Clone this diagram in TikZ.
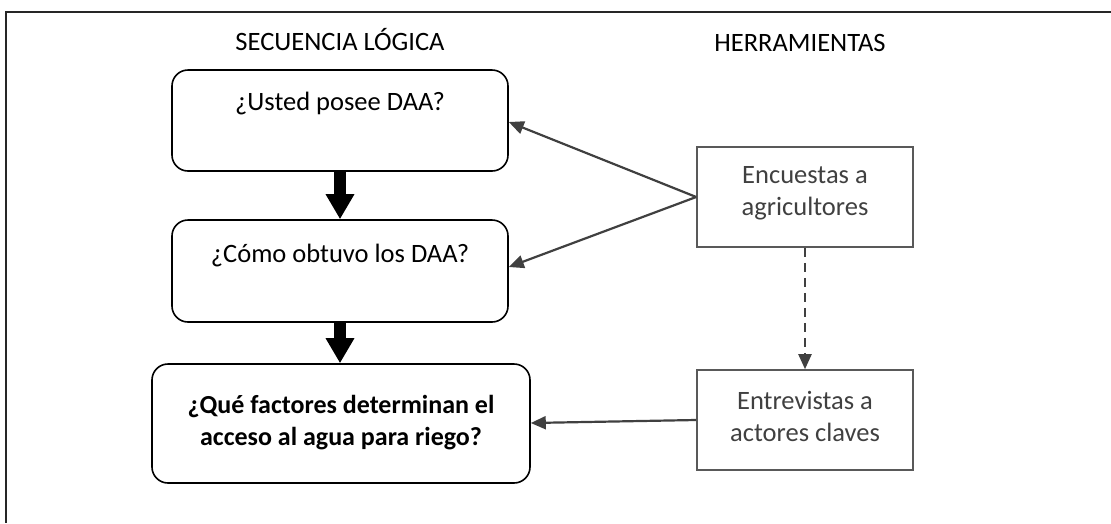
\documentclass[tikz,border=0pt]{standalone}
\usepackage{fontspec}
\setmainfont{Carlito}
\usetikzlibrary{arrows.meta}
\definecolor{toolgray}{HTML}{595959}
\definecolor{arrgray}{HTML}{404040}
\definecolor{txtgray}{HTML}{404040}
\tikzset{
  qbox/.style={draw=black, line width=1.6pt, rounded corners=16pt, inner sep=0pt},
  tbox/.style={draw=toolgray, line width=1.6pt, inner sep=0pt, minimum width=216pt, minimum height=100pt},
  qtext/.style={font=\fontsize{26.5}{32}\selectfont, text=black, inner sep=0pt, anchor=base},
  btext/.style={font=\fontsize{26}{32}\selectfont\bfseries, text=black, inner sep=0pt, align=center},
  ttext/.style={font=\fontsize{26.5}{32}\selectfont, text=txtgray, inner sep=0pt, align=center},
  head/.style={font=\fontsize{26.5}{30}\selectfont, text=black, inner sep=0pt, anchor=base},
  thick arrow/.style={line width=12pt, -{Triangle[length=25pt,width=27pt]}},
  tool arrow/.style={draw=arrgray, line width=2.2pt, -{Triangle[length=15pt,width=13pt]}, color=arrgray},
}
\begin{document}
\begin{tikzpicture}[x=1pt,y=-1pt]
\useasboundingbox (0,0) rectangle (1111,523);
% frame
\coordinate (fTL) at (6,12);
\coordinate (fTR) at (1111,12);
\coordinate (fBL) at (6,523);
\draw[line width=1.8pt, color=black!85] (fTR) -- (fTL) -- (fBL);
% headers
\node[head] (h1) at (340,50) {SECUENCIA LÓGICA};
\node[head] (h2) at (800,51) {HERRAMIENTAS};
% question boxes
\node[qbox, minimum width=336pt, minimum height=101pt] (b1) at (340,120.5) {};
\node[qtext] (t1) at (340,110) {¿Usted posee DAA?};
\node[qbox, minimum width=336pt, minimum height=102pt] (b2) at (340,271) {};
\node[qtext] (t2) at (340,262) {¿Cómo obtuvo los DAA?};
\node[qbox, minimum width=378pt, minimum height=119pt] (b3) at (341,423.5) {};
\node[btext] (t3) at (341,423) {¿Qué factores determinan el\\acceso al agua para riego?};
% tool boxes
\node[tbox] (e1) at (805,197) {};
\node[ttext] (te1) at (805,193) {Encuestas a\\agricultores};
\node[tbox] (e2) at (805,420) {};
\node[ttext] (te2) at (805,416) {Entrevistas a\\actores claves};
% thick arrows
\draw[thick arrow] (b1.south) -- (b2.north);
\draw[thick arrow] (b2.south) -- (b2.south |- b3.north);
% tool arrows
\draw[tool arrow] (e1.west) -- (b1.east |- 0,122);
\draw[tool arrow] (e1.west) -- (b2.east |- 0,267);
\draw[tool arrow] (e2.west) -- (b3.east |- 0,423);
\draw[tool arrow, dashed, dash pattern=on 9pt off 6pt] (e1.south) -- (e2.north);
\end{tikzpicture}
\end{document}
